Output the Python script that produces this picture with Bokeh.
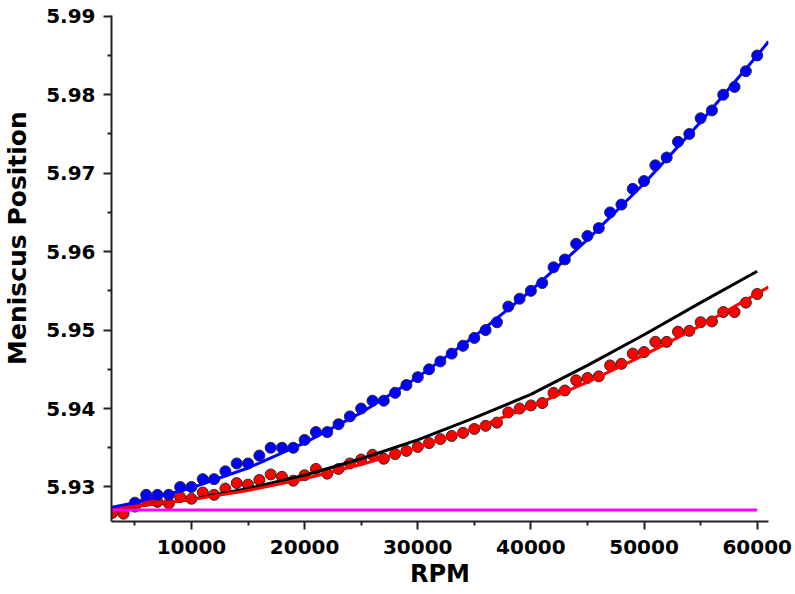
from bokeh.plotting import figure
from bokeh.models import Range1d, FixedTicker
from bokeh.embed import file_html
from bokeh.resources import INLINE

# ---- data ----
blue_rpm = [5000, 6000, 7000, 8000, 9000, 10000, 11000, 12000, 13000, 14000, 15000, 16000,
            17000, 18000, 19000, 20000, 21000, 22000, 23000, 24000, 25000, 26000, 27000, 28000,
            29000, 30000, 31000, 32000, 33000, 34000, 35000, 36000, 37000, 38000, 39000, 40000,
            41000, 42000, 43000, 44000, 45000, 46000, 47000, 48000, 49000, 50000, 51000, 52000,
            53000, 54000, 55000, 56000, 57000, 58000, 59000, 60000]
blue_pos = [5.928, 5.929, 5.929, 5.929, 5.930, 5.930, 5.931, 5.931, 5.932, 5.933, 5.933, 5.934,
            5.935, 5.935, 5.935, 5.936, 5.937, 5.937, 5.938, 5.939, 5.940, 5.941, 5.941, 5.942,
            5.943, 5.944, 5.945, 5.946, 5.947, 5.948, 5.949, 5.950, 5.951, 5.953, 5.954, 5.955,
            5.956, 5.958, 5.959, 5.961, 5.962, 5.963, 5.965, 5.966, 5.968, 5.969, 5.971, 5.972,
            5.974, 5.975, 5.977, 5.978, 5.980, 5.981, 5.983, 5.985]

red_rpm = [3000, 4000, 5000, 6000, 7000, 8000, 9000, 10000, 11000, 12000, 13000, 14000, 15000,
           16000, 17000, 18000, 19000, 20000, 21000, 22000, 23000, 24000, 25000, 26000, 27000,
           28000, 29000, 30000, 31000, 32000, 33000, 34000, 35000, 36000, 37000, 38000, 39000,
           40000, 41000, 42000, 43000, 44000, 45000, 46000, 47000, 48000, 49000, 50000, 51000,
           52000, 53000, 54000, 55000, 56000, 57000, 58000, 59000, 60000]
red_pos = [5.9267, 5.9266, 5.9275, 5.9283, 5.9281, 5.9279, 5.9287, 5.9285, 5.9293, 5.9290,
           5.9298, 5.9305, 5.9303, 5.9309, 5.9316, 5.9313, 5.9308, 5.9315, 5.9323, 5.9317,
           5.9323, 5.9330, 5.9335, 5.9341, 5.9336, 5.9342, 5.9346, 5.9351, 5.9356, 5.9361,
           5.9365, 5.9369, 5.9374, 5.9378, 5.9382, 5.9395, 5.9400, 5.9404, 5.9407, 5.9420,
           5.9423, 5.9436, 5.9439, 5.9441, 5.9455, 5.9457, 5.9470, 5.9472, 5.9485, 5.9485,
           5.9498, 5.9499, 5.9510, 5.9511, 5.9523, 5.9523, 5.9535, 5.9546]

fit_rpm = [3000, 5000, 10000, 15000, 20000, 25000, 30000, 35000, 40000, 45000, 50000, 55000,
           60000, 61000]
blue_fit = [5.92743, 5.92800, 5.92988, 5.93242, 5.93562, 5.93947, 5.94400, 5.94918, 5.95502,
            5.96153, 5.96869, 5.97652, 5.98500, 5.98678]
red_fit = [5.92730, 5.92755, 5.92839, 5.92956, 5.93105, 5.93286, 5.93500, 5.93746, 5.94025,
           5.94336, 5.94680, 5.95056, 5.95465, 5.95550]

theory_rpm = [3000, 5000, 10000, 15000, 20000, 25000, 30000, 35000, 40000, 45000, 50000,
              55000, 60000]
theory_pos = [5.9272, 5.9275, 5.9284, 5.9298, 5.9315, 5.9336, 5.9360, 5.9388, 5.9418,
              5.9455, 5.9494, 5.9535, 5.9575]

rest_rpm = [3000, 60000]
rest_pos = [5.92705, 5.92705]

x_ticks = [10000, 20000, 30000, 40000, 50000, 60000]
x_minor = [5000, 15000, 25000, 35000, 45000, 55000]
y_ticks = [5.93, 5.94, 5.95, 5.96, 5.97, 5.98, 5.99]
y_minor = [5.935, 5.945, 5.955, 5.965, 5.975, 5.985]

x_title = "RPM"
y_title = "Meniscus Position"

FONT = "DejaVu Sans"

p = figure(width=795, height=594, output_backend="svg", toolbar_location=None,
           x_range=Range1d(2933, 61000), y_range=Range1d(5.9256, 5.9901),
           min_border_left=111, min_border_right=27, min_border_top=15, min_border_bottom=73)
p.outline_line_color = None
p.grid.grid_line_color = None
p.background_fill_color = "white"
p.border_fill_color = "white"

# points
p.scatter(red_rpm, red_pos, marker="circle", size=11, fill_color="#ff0000",
          line_color="#2a2a2a", line_width=1)
p.scatter(blue_rpm, blue_pos, marker="circle", size=11, fill_color="#0000ff",
          line_color="#2a2a2a", line_width=1)
# lines
p.line(theory_rpm, theory_pos, line_color="black", line_width=3)
p.line(fit_rpm, red_fit, line_color="#ff0000", line_width=3)
p.line(fit_rpm, blue_fit, line_color="#0000ff", line_width=3)
p.line(rest_rpm, rest_pos, line_color="#ff00ff", line_width=3)

for ax in (p.xaxis[0], p.yaxis[0]):
    ax.axis_line_color = "#222222"
    ax.axis_line_width = 2
    ax.major_tick_line_color = "#222222"
    ax.major_tick_line_width = 2
    ax.minor_tick_line_color = "#222222"
    ax.minor_tick_line_width = 2
    ax.major_tick_in = 0
    ax.major_tick_out = 8
    ax.minor_tick_in = 0
    ax.minor_tick_out = 4
    ax.major_label_text_font = FONT
    ax.major_label_text_font_style = "bold"
    ax.major_label_text_font_size = "20px"
    ax.major_label_text_color = "black"
    ax.axis_label_text_font = FONT
    ax.axis_label_text_font_style = "bold"
    ax.axis_label_text_color = "black"

p.xaxis[0].ticker = FixedTicker(ticks=x_ticks, minor_ticks=x_minor)
p.yaxis[0].ticker = FixedTicker(ticks=y_ticks, minor_ticks=y_minor)
p.yaxis[0].major_label_overrides = {v: f"{v:.2f}" for v in y_ticks}
p.xaxis[0].major_label_standoff = 10
p.yaxis[0].major_label_standoff = 8

p.xaxis[0].axis_label = x_title
p.xaxis[0].axis_label_text_font_size = "24px"
p.xaxis[0].axis_label_standoff = 3

# leading no-break spaces lift the visible title above the frame centre, as in the reference
p.yaxis[0].axis_label = "\u00a0" * 7 + y_title
p.yaxis[0].axis_label_text_font_size = "25px"
p.yaxis[0].axis_label_standoff = 11

open("out.html", "w").write(file_html(p, INLINE))
